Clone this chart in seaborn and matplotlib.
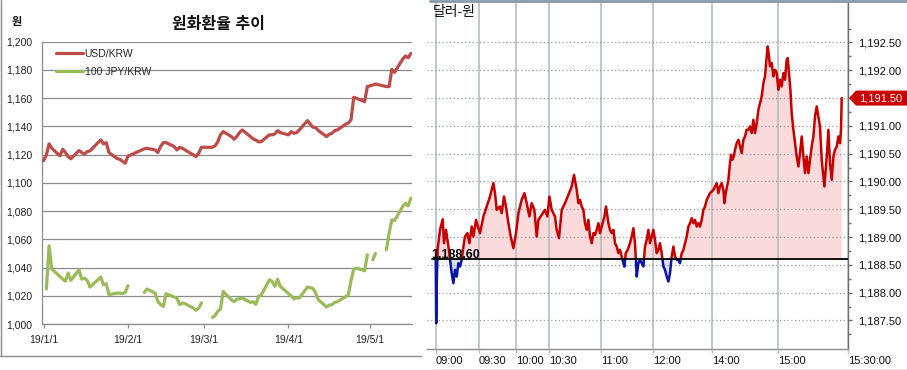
import numpy as np
import pandas as pd
import matplotlib
matplotlib.use("Agg")
import matplotlib.pyplot as plt
import matplotlib.transforms as mtransforms
from matplotlib.lines import Line2D
from matplotlib.patches import Rectangle, Polygon
import seaborn as sns

# ---------------- data: left chart (daily closes) ----------------
dates = pd.bdate_range("2019-01-01", "2019-05-16")
nan = np.nan
usd_krw = [
    1115.8, 1119.8, 1127.6, 1124.5, 1119.1, 1123.8, 1121.5, 1118.6, 1117.0, 1122.9,
    1121.5, 1120.3, 1122.2, 1122.6, 1128.5, 1130.4, 1127.6, 1128.5, 1121.5, 1117.2,
    1116.7, 1115.3, 1113.9, 1118.9, nan, nan, nan, 1124.1, 1124.5, 1123.3,
    1121.5, 1125.7, 1128.5, 1128.5, 1125.7, 1123.3, 1125.2, 1124.5, 1123.3, 1119.8,
    1118.6, 1121.0, 1125.2, nan, 1125.2, 1126.2, 1129.0, 1134.0, 1136.3, 1132.8,
    1130.9, 1132.8, 1135.6, 1137.5, 1132.8, 1131.1, 1130.4, 1129.0, 1129.2, 1134.0,
    1134.0, 1134.7, 1137.0, 1135.6, 1134.0, 1136.3, 1135.1, 1135.6, 1137.5, 1144.1,
    1141.7, 1139.4, 1139.2, 1137.0, 1132.8, 1134.4, 1135.1, 1137.0, 1137.5, 1141.5,
    1142.5, 1144.6, 1160.6, 1159.9, 1157.5, 1168.2, nan, 1169.3, 1170.0, nan,
    1168.2, 1168.2, 1180.4, 1178.3, 1187.7, 1189.9, 1188.6, 1191.7,
]
jpy100_krw = [
    nan, 1024.8, 1055.4, 1038.9, 1033.7, 1031.8, 1030.4, 1036.1, 1030.9, 1038.4,
    1031.8, 1032.5, 1030.9, 1026.2, 1031.4, 1033.3, 1027.8, 1028.5, 1020.8, 1021.9,
    1021.9, 1021.5, 1022.4, 1027.1, nan, nan, nan, 1022.4, 1024.8, 1021.9,
    1016.0, 1013.7, 1012.5, 1021.5, 1019.1, 1018.4, 1013.7, 1014.9, 1014.4, 1011.3,
    1009.7, 1011.3, 1014.9, nan, 1004.7, 1005.9, 1009.0, 1010.6, 1023.1, 1017.2,
    1015.8, 1017.5, 1017.9, 1018.4, 1015.3, 1015.8, 1013.9, 1019.6, 1020.5, 1031.4,
    1030.2, 1026.7, 1031.8, 1026.7, 1021.5, 1020.0, 1017.7, 1018.6, 1018.4, 1026.2,
    1025.7, 1025.2, 1021.9, 1017.2, 1012.0, 1013.4, 1013.7, 1015.3, 1015.8, 1019.3,
    1020.5, 1030.9, 1038.9, 1039.6, 1037.7, 1049.1, nan, 1045.5, 1050.0, nan,
    1052.6, 1064.4, 1073.8, 1073.3, 1083.3, 1085.4, 1083.7, 1089.2,
]
series_names = ["USD/KRW", "100 JPY/KRW"]
month_tick_dates = ["2019-01-01", "2019-02-01", "2019-03-01", "2019-04-01", "2019-05-01"]
month_tick_labels = ["19/1/1", "19/2/1", "19/3/1", "19/4/1", "19/5/1"]
left_yticks = list(range(1000, 1201, 20))

# ---------------- data: right chart (intraday ticks) ----------------
intraday_seq = [
    0.0, 0.5, 1.2, 2.0, 2.7, 4.3, 7.0, 8.3, 10.3, 12.7, 14.3, 16.0, 17.7, 19.3, 21.0,
    22.7, 24.3, 26.0, 27.7, 29.3, 31.7, 33.7, 36.0, 37.7, 40.3, 42.7, 44.3, 47.7, 51.0,
    54.3, 57.7, 59.3, 61.0, 64.3, 66.0, 68.3, 70.3, 72.7, 75.0, 77.7, 80.3, 82.7, 86.0,
    88.7, 91.0, 93.7, 96.0, 98.7, 101.0, 102.7, 106.0, 109.3, 111.7, 113.7, 116.0, 119.3,
    121.0, 123.3, 126.0, 129.3, 132.7, 136.0, 138.3, 141.0, 142.7, 144.3, 146.0, 147.7,
    149.3, 151.0, 152.7, 154.3, 156.0, 157.7, 159.3, 161.0, 162.7, 164.3, 166.0, 168.7,
    170.3, 172.7, 174.3, 176.0, 177.7, 179.3, 181.0, 182.7, 184.3, 186.0, 187.7, 188.7,
    190.0, 192.0, 194.3, 196.0, 197.7, 199.3, 201.0, 202.7, 204.3, 206.0, 207.7, 209.3,
    211.0, 212.7, 214.3, 216.0, 217.7, 219.3, 221.0, 222.7, 224.3, 226.0, 227.7, 229.3,
    231.0, 232.7, 234.3, 236.0, 237.7, 239.3, 241.0, 242.7, 244.3, 246.0, 247.7, 249.3,
    251.0, 252.7, 254.3, 256.0, 257.7, 259.3, 261.0, 262.7, 264.3, 266.0, 267.7, 269.3,
    271.0, 272.7, 274.3, 276.0, 277.7, 279.3, 281.0, 282.7, 284.3, 286.0, 287.7, 288.7,
    290.0, 291.3, 292.7, 294.3, 295.3, 296.7, 298.0, 299.3, 301.0, 302.7, 304.3, 306.0,
    307.7, 309.3, 311.0, 312.7, 314.3, 316.0, 317.7, 319.3, 321.0, 322.7, 324.3, 326.0,
    327.7, 329.3, 331.0, 332.0, 333.3, 334.3, 336.0, 337.7, 339.3, 341.0, 342.7, 344.3,
    346.0, 347.7, 349.3, 351.0, 352.0, 353.3, 354.7, 356.0, 357.7, 359.3, 361.0, 362.7,
    364.3, 366.0, 367.7, 369.3, 371.0, 372.7, 374.3, 376.0, 377.7, 379.3, 381.0, 382.7,
    384.3, 386.0, 387.7, 388.7, 390.0, 391.3, 392.7, 394.3, 396.0, 397.7, 399.3, 401.0,
    402.7, 404.3, 405.3, 406.0,
]
intraday_price = [
    1188.62, 1187.45, 1188.30, 1188.80, 1188.89, 1189.13, 1189.32, 1188.89, 1189.13, 1188.83,
    1188.59, 1188.35, 1188.17, 1188.41, 1188.29, 1188.53, 1188.47, 1188.59, 1188.83, 1189.01,
    1189.07, 1188.89, 1189.19, 1189.01, 1189.31, 1189.16, 1189.07, 1189.37, 1189.55, 1189.73,
    1189.97, 1189.79, 1189.49, 1189.55, 1189.43, 1189.73, 1189.55, 1189.25, 1189.01, 1188.80,
    1189.07, 1189.43, 1189.67, 1189.79, 1189.61, 1189.37, 1189.61, 1189.49, 1189.01, 1189.31,
    1189.40, 1189.49, 1189.37, 1189.73, 1189.49, 1189.37, 1189.13, 1188.98, 1189.49, 1189.61,
    1189.76, 1189.91, 1190.12, 1189.85, 1189.61, 1189.67, 1189.55, 1189.49, 1189.25, 1189.13,
    1189.31, 1189.01, 1188.89, 1189.07, 1189.04, 1189.13, 1189.25, 1189.07, 1189.19, 1189.37,
    1189.55, 1189.25, 1189.13, 1189.07, 1189.13, 1188.89, 1188.83, 1188.71, 1188.77, 1188.65,
    1188.53, 1188.47, 1188.71, 1188.77, 1188.89, 1189.01, 1189.16, 1188.89, 1188.29, 1188.53,
    1188.59, 1188.53, 1188.47, 1188.83, 1188.95, 1189.13, 1188.89, 1189.01, 1189.13, 1188.95,
    1188.71, 1188.77, 1188.89, 1188.71, 1188.47, 1188.41, 1188.29, 1188.20, 1188.35, 1188.65,
    1188.83, 1188.65, 1188.59, 1188.59, 1188.53, 1188.71, 1188.77, 1188.89, 1189.01, 1189.19,
    1189.25, 1189.34, 1189.25, 1189.31, 1189.19, 1189.25, 1189.19, 1189.31, 1189.49, 1189.55,
    1189.67, 1189.73, 1189.79, 1189.82, 1189.85, 1189.91, 1189.97, 1189.79, 1189.91, 1189.97,
    1189.85, 1189.61, 1189.79, 1189.91, 1190.03, 1190.33, 1190.48, 1190.39, 1190.45, 1190.57,
    1190.69, 1190.75, 1190.63, 1190.51, 1190.75, 1190.81, 1190.93, 1190.93, 1190.99, 1190.87,
    1191.11, 1190.87, 1191.05, 1191.29, 1191.41, 1191.53, 1191.77, 1191.89, 1192.25, 1192.43,
    1192.25, 1192.07, 1192.13, 1191.89, 1192.01, 1191.95, 1191.65, 1191.83, 1191.71, 1191.95,
    1191.83, 1192.19, 1192.22, 1191.95, 1191.65, 1191.23, 1190.93, 1190.69, 1190.45, 1190.27,
    1190.51, 1190.81, 1190.45, 1190.15, 1190.45, 1190.15, 1190.39, 1190.63, 1190.81, 1191.17,
    1191.35, 1191.17, 1190.99, 1190.39, 1190.09, 1189.91, 1190.21, 1190.51, 1190.93, 1190.33,
    1190.03, 1190.45, 1190.57, 1190.63, 1190.81, 1190.69, 1190.93, 1191.50,
]
prev_close = 1188.60
last_price = 1191.50
time_tick_seq = [0, 43, 80, 113, 165, 217.7, 276, 342.7, 412.3]
time_tick_labels = ["09:00", "09:30", "10:00", "10:30", "11:00", "12:00", "14:00", "15:00", "15:30:00"]
right_yticks = [1187.5, 1188.0, 1188.5, 1189.0, 1189.5, 1190.0, 1190.5, 1191.0, 1191.5, 1192.0, 1192.5]

# ---------------- style ----------------
sns.set_theme(style="white")
plt.rcParams['font.family'] = ['Liberation Sans', 'Noto Sans CJK KR', 'DejaVu Sans']

W, H = 907, 370
fig = plt.figure(figsize=(W / 100, H / 100), dpi=100)

def fx(px):
    return px / W

def fy(py):
    return 1 - py / H

USD_C = "#BE4B48"
JPY_C = "#9BBB59"
GRID_L = "#8C8C8C"

# ================= LEFT PANEL =================
axL = fig.add_axes([fx(42), fy(324), fx(370), 282.3 / H])
df = pd.DataFrame({"date": dates, "usd": usd_krw, "jpy": jpy100_krw})
sns.lineplot(data=df.dropna(subset=["usd"]), x="date", y="usd", color=USD_C,
             lw=2.3, ax=axL, zorder=3)
dj = df.assign(seg=df["jpy"].isna().cumsum()).dropna(subset=["jpy"])
sns.lineplot(data=dj, x="date", y="jpy", units="seg", estimator=None, color=JPY_C,
             lw=2.3, ax=axL, zorder=3)

axL.set_xlim(pd.Timestamp("2018-12-31 09:30"), pd.Timestamp("2019-05-16 10:00"))
axL.set_ylim(1000, 1200)
axL.set_yticks(left_yticks)
axL.set_yticklabels([f"{v:,}" for v in left_yticks], fontsize=7.5, color="#222222")
axL.set_xticks([pd.Timestamp(d) for d in month_tick_dates])
axL.set_xticklabels(month_tick_labels, fontsize=7.5, color="#222222")
axL.set_xlabel("")
axL.set_ylabel("")
axL.yaxis.grid(True, color=GRID_L, lw=0.9)
axL.xaxis.grid(False)
axL.set_axisbelow(True)
for s in ["top", "right"]:
    axL.spines[s].set_visible(False)
for s in ["left", "bottom"]:
    axL.spines[s].set_color(GRID_L)
    axL.spines[s].set_linewidth(0.9)
axL.tick_params(axis="y", length=0, pad=7)
axL.tick_params(axis="x", length=3, width=0.9, color=GRID_L, pad=5, bottom=True)

handles = [Line2D([], [], color=USD_C, lw=2.3), Line2D([], [], color=JPY_C, lw=2.3)]
axL.legend(handles, series_names, loc="upper left", bbox_to_anchor=(0.038, 0.975),
           frameon=False, fontsize=7.5, handlelength=2.6, handletextpad=0.15,
           labelspacing=0.8, borderpad=0, borderaxespad=0)

fig.text(fx(219), fy(24), "원화환율 추이", ha="center", va="center", fontsize=11.5,
         fontweight="bold", color="#111111")
fig.text(fx(16.5), fy(22), "원", ha="center", va="center", fontsize=8,
         fontweight="bold", color="#111111")

fig.add_artist(Line2D([fx(1), fx(1)], [fy(0), fy(356)], color="#8C8C8C", lw=1,
                      transform=fig.transFigure))
fig.add_artist(Line2D([fx(0), fx(421)], [fy(356), fy(356)], color="#8C8C8C", lw=1,
                      transform=fig.transFigure))

# ================= RIGHT PANEL =================
axR = fig.add_axes([fx(427), fy(349), fx(421), 347 / H])
idf = pd.DataFrame({"seq": intraday_seq, "price": intraday_price})
pr = idf["price"].to_numpy()
axR.fill_between(idf["seq"], pr, prev_close, where=pr >= prev_close, interpolate=True,
                 facecolor="#FADADA", lw=0, zorder=1)
axR.fill_between(idf["seq"], pr, prev_close, where=pr <= prev_close, interpolate=True,
                 facecolor="#DCDDF2", lw=0, zorder=1)

sns.lineplot(data=idf, x="seq", y="price", estimator=None, sort=False,
             color="#C80000", lw=1.8, ax=axR, zorder=4)
red_line = axR.lines[-1]
sns.lineplot(data=idf, x="seq", y="price", estimator=None, sort=False,
             color="#0A14A8", lw=1.8, ax=axR, zorder=4)
blue_line = axR.lines[-1]
red_line.set_clip_path(Rectangle((-50, prev_close), 600, 20, transform=axR.transData))
blue_line.set_clip_path(Rectangle((-50, prev_close - 20), 600, 20, transform=axR.transData))

axR.set_xlim(-8.7, 412.3)
axR.set_ylim(1186.987, 1193.228)
axR.set_xlabel("")
axR.set_ylabel("")

axR.set_xticks(time_tick_seq)
axR.set_xticklabels(time_tick_labels, fontsize=8, color="#111111")
for lab in axR.get_xticklabels():
    lab.set_horizontalalignment("left")
axR.tick_params(axis="x", length=3, width=1, color="#B4BCC4", pad=2, bottom=True)
axR.xaxis.grid(True, color="#B4BCC4", lw=1.2, ls="-")

axR.yaxis.tick_right()
axR.set_yticks(right_yticks)
axR.set_yticklabels(["" if abs(v - last_price) < 1e-6 else f"{v:,.2f}" for v in right_yticks],
                    fontsize=8, color="#111111")
axR.set_yticks(np.arange(1187.25, 1193.1, 0.5), minor=True)
axR.tick_params(axis="y", which="major", length=3, width=1, color="#707070", pad=4, right=True)
axR.tick_params(axis="y", which="minor", length=2.2, width=1, color="#707070", right=True)
axR.yaxis.grid(True, which="major", color="#9A9A9A", lw=0.9, ls=(0, (1, 2)))
axR.set_axisbelow(False)
for g in axR.get_xgridlines() + axR.get_ygridlines():
    g.set_zorder(2)

for s in ["top", "left"]:
    axR.spines[s].set_visible(False)
axR.spines["right"].set_color("#6E6E6E")
axR.spines["right"].set_linewidth(1)
axR.spines["bottom"].set_color("#8A8A8A")
axR.spines["bottom"].set_linewidth(1)

axR.axhline(prev_close, xmin=5 / 421, xmax=1, color="black", lw=1.3, zorder=5)
axR.text(-4.7, prev_close + 0.03, f"{prev_close:,.2f}", ha="left", va="baseline",
         fontsize=9, fontweight="bold", color="black", zorder=6)

# last price tag
tr = mtransforms.blended_transform_factory(axR.transAxes, axR.transData)
hh = 7.5 / 55.6
x0 = 1.0 + 1 / 421
x1 = 1.0 + 8 / 421
x2 = (907 - 427) / 421
tag = Polygon([(x0, last_price), (x1, last_price + hh), (x2, last_price + hh),
               (x2, last_price - hh), (x1, last_price - hh)], closed=True,
              facecolor="#CC0000", edgecolor="none", transform=tr, clip_on=False, zorder=6)
axR.add_patch(tag)
axR.text(1.0 + 11 / 421, last_price, f"{last_price:,.2f}", transform=tr, ha="left",
         va="center", fontsize=8, color="white", zorder=7, clip_on=False)

fig.text(fx(433), fy(12), "달러-원", ha="left", va="center", fontsize=10, color="#111111")

fig.add_artist(Line2D([fx(430), fx(907)], [fy(1), fy(1)], color="#8898A8", lw=2,
                      transform=fig.transFigure))
fig.add_artist(Line2D([fx(432), fx(907)], [fy(369.5), fy(369.5)], color="#909090", lw=1,
                      transform=fig.transFigure))

fig.savefig("out.png", dpi=100)
